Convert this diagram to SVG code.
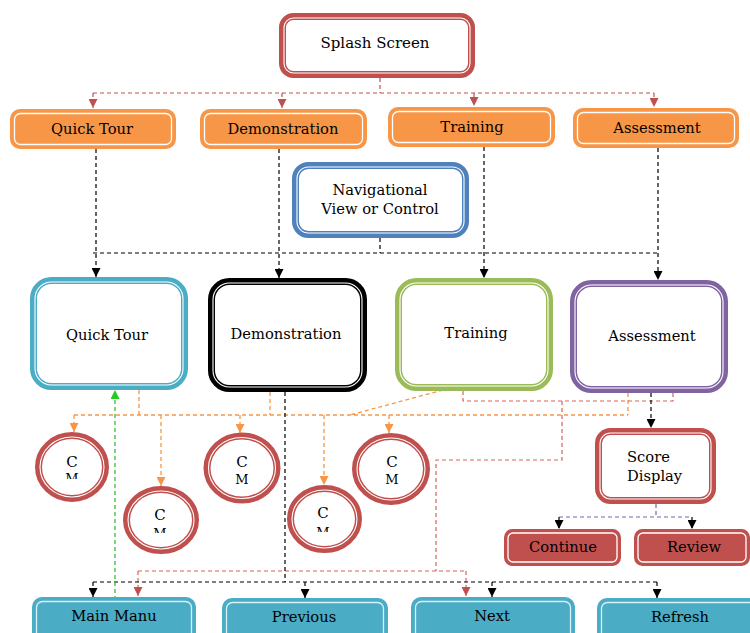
<svg xmlns="http://www.w3.org/2000/svg" width="750" height="633" viewBox="0 0 750 633">
<style>
text{font-family:"DejaVu Serif","Liberation Serif",serif;font-size:14.7px;fill:#000;text-anchor:middle}
.w{fill:none;stroke:#fff;stroke-width:1.1}
.big{fill:#fff;stroke-width:7}
.red{stroke:#c0504d}.blue{stroke:#4f81bd}.teal{stroke:#4bacc6}.blk{stroke:#000}.grn{stroke:#9bbb59}.pur{stroke:#8064a2}
.org{fill:#f79646;stroke:#f79646;stroke-width:4}
.btn{fill:#4bacc6;stroke:#4bacc6;stroke-width:4}
.rbtn{fill:#c0504d;stroke:#c0504d;stroke-width:3}
.wl{fill:none;stroke:#fff;stroke-width:1.3}
.bl{fill:none;stroke:#d6f0f6;stroke-width:1.3}
.cir{fill:#fff;stroke:#c0504d;stroke-width:7}
.d{fill:none;stroke-width:1.2;stroke-dasharray:4 3}
.dr{stroke:#c0504d}.dl{stroke:#d9625d}.dk{stroke:#000}.do{stroke:#f79646;stroke-width:1.3}.dg{stroke:#22bb22}.dp{stroke:#6f6aa8}
</style>
<defs>
<marker id="ar" viewBox="0 0 10 10" refX="10" refY="5" markerWidth="9" markerHeight="9" markerUnits="userSpaceOnUse" orient="auto"><path d="M0,0L10,5L0,10z" fill="#c0504d"/></marker>
<marker id="ak" viewBox="0 0 10 10" refX="10" refY="5" markerWidth="9" markerHeight="9" markerUnits="userSpaceOnUse" orient="auto"><path d="M0,0L10,5L0,10z" fill="#000"/></marker>
<marker id="ao" viewBox="0 0 10 10" refX="10" refY="5" markerWidth="9" markerHeight="9" markerUnits="userSpaceOnUse" orient="auto"><path d="M0,0L10,5L0,10z" fill="#f79646"/></marker>
<marker id="ag" viewBox="0 0 10 10" refX="10" refY="5" markerWidth="9" markerHeight="9" markerUnits="userSpaceOnUse" orient="auto"><path d="M0,0L10,5L0,10z" fill="#22cc22"/></marker>
<clipPath id="c1"><rect x="40" y="440" width="70" height="39"/></clipPath>
<clipPath id="c2"><rect x="130" y="490" width="70" height="43"/></clipPath>
<clipPath id="c4"><rect x="290" y="490" width="70" height="42"/></clipPath>
</defs>
<g id="connectors">
<path class="d dr" d="M380,78V93M93,93H654"/>
<path class="d dr" d="M93,93V108" marker-end="url(#ar)"/>
<path class="d dr" d="M282,93V108" marker-end="url(#ar)"/>
<path class="d dr" d="M474,93V106" marker-end="url(#ar)"/>
<path class="d dr" d="M654,93V107" marker-end="url(#ar)"/>
<path class="d dk" d="M93,253H658M380,238V253"/>
<path class="d dk" d="M96,149V277" marker-end="url(#ak)"/>
<path class="d dk" d="M279,149V278" marker-end="url(#ak)"/>
<path class="d dk" d="M484,147V278" marker-end="url(#ak)"/>
<path class="d dk" d="M658,148V280" marker-end="url(#ak)"/>
<path class="d do" d="M139,390V415M270,392V415M443,390L350,415M628,393V415M74,415H628"/>
<path class="d do" d="M74,415V432" marker-end="url(#ao)"/>
<path class="d do" d="M161,415V486" marker-end="url(#ao)"/>
<path class="d do" d="M240,415V433" marker-end="url(#ao)"/>
<path class="d do" d="M324,415V485" marker-end="url(#ao)"/>
<path class="d do" d="M389,415V433" marker-end="url(#ao)"/>
<path class="d dl" d="M463,391V401H673V393M562,401V460H436V571M138,571H466"/>
<path class="d dl" d="M138,571V596" marker-end="url(#ar)"/>
<path class="d dl" d="M466,571V596" marker-end="url(#ar)"/>
<path class="d dk" d="M285,392V582M93,582H657"/>
<path class="d dk" d="M93,582V597" marker-end="url(#ak)"/>
<path class="d dk" d="M305,582V598" marker-end="url(#ak)"/>
<path class="d dk" d="M492,582V597" marker-end="url(#ak)"/>
<path class="d dk" d="M657,582V598" marker-end="url(#ak)"/>
<path class="d dk" d="M651,393V428" marker-end="url(#ak)"/>
<path class="d dp" d="M656,504V517M559,517H692"/>
<path class="d dk" d="M559,517V529" marker-end="url(#ak)"/>
<path class="d dk" d="M692,517V529" marker-end="url(#ak)"/>
<path class="d dg" d="M115,600V390" marker-end="url(#ag)"/>
</g>
<g id="splash">
<rect class="big red" x="282.5" y="16.5" width="189" height="58" rx="11"/>
<rect class="w" x="284" y="18" width="186" height="55" rx="9.5"/>
<text x="375" y="48" style="font-size:15px">Splash Screen</text>
</g>
<g id="qt-top">
<rect class="org" x="12" y="111" width="162" height="36" rx="8"/>
<rect class="wl" x="14.5" y="113.5" width="157" height="31" rx="6"/>
<text x="92" y="134">Quick Tour</text>
</g>
<g id="demo-top">
<rect class="org" x="202" y="111" width="163" height="36" rx="8"/>
<rect class="wl" x="204.5" y="113.5" width="158" height="31" rx="6"/>
<text x="283" y="134">Demonstration</text>
</g>
<g id="train-top">
<rect class="org" x="390" y="109" width="163" height="36" rx="8"/>
<rect class="wl" x="392.5" y="111.5" width="158" height="31" rx="6"/>
<text x="472" y="132">Training</text>
</g>
<g id="assess-top">
<rect class="org" x="575" y="110" width="162" height="36" rx="8"/>
<rect class="wl" x="577.5" y="112.5" width="157" height="31" rx="6"/>
<text x="657" y="133">Assessment</text>
</g>
<g id="nav">
<rect class="big blue" x="295.5" y="165.5" width="170" height="69" rx="13"/>
<rect class="w" x="297" y="167" width="167" height="66" rx="11.5"/>
<text x="380" y="195">Navigational</text>
<text x="380" y="214">View or Control</text>
</g>
<g id="qt">
<rect class="big teal" x="33.5" y="280.5" width="151" height="106" rx="18"/>
<rect class="w" x="35" y="282" width="148" height="103" rx="16.5"/>
<text x="107" y="340">Quick Tour</text>
</g>
<g id="demo">
<rect class="big blk" x="211.5" y="281.5" width="152" height="107" rx="18"/>
<rect class="w" x="213" y="283" width="149" height="104" rx="16.5"/>
<text x="286" y="339">Demonstration</text>
</g>
<g id="train">
<rect class="big grn" x="398.5" y="281.5" width="151" height="106" rx="18"/>
<rect class="w" x="400" y="283" width="148" height="103" rx="16.5"/>
<text x="476" y="338">Training</text>
</g>
<g id="assess">
<rect class="big pur" x="573.5" y="283.5" width="151" height="106" rx="18"/>
<rect class="w" x="575" y="285" width="148" height="103" rx="16.5"/>
<text x="652" y="341">Assessment</text>
</g>
<g id="cm1">
<ellipse class="cir" cx="72" cy="467" rx="33.5" ry="31.5"/>
<ellipse class="w" cx="72" cy="467" rx="32" ry="30"/>
<text x="72" y="467" style="font-size:15px">C</text>
<text x="72" y="482.5" style="font-size:13px" clip-path="url(#c1)">M</text>
</g>
<g id="cm2">
<ellipse class="cir" cx="161" cy="520" rx="34.5" ry="30.5"/>
<ellipse class="w" cx="161" cy="520" rx="33" ry="29"/>
<text x="160" y="520" style="font-size:15px">C</text>
<text x="160" y="537.5" style="font-size:13px" clip-path="url(#c2)">M</text>
</g>
<g id="cm3">
<ellipse class="cir" cx="242" cy="468" rx="35" ry="32"/>
<ellipse class="w" cx="242" cy="468" rx="33.5" ry="30.5"/>
<text x="242" y="467" style="font-size:15px">C</text>
<text x="242" y="484" style="font-size:13px">M</text>
</g>
<g id="cm4">
<ellipse class="cir" cx="324.5" cy="519" rx="34" ry="30.5"/>
<ellipse class="w" cx="324.5" cy="519" rx="32.5" ry="29"/>
<text x="323" y="518" style="font-size:15px">C</text>
<text x="323" y="536.5" style="font-size:13px" clip-path="url(#c4)">M</text>
</g>
<g id="cm5">
<ellipse class="cir" cx="391" cy="469" rx="35.5" ry="32.5"/>
<ellipse class="w" cx="391" cy="469" rx="34" ry="31"/>
<text x="392" y="467" style="font-size:15px">C</text>
<text x="392" y="484" style="font-size:13px">M</text>
</g>
<g id="score">
<rect class="big red" x="598.5" y="431.5" width="114" height="69" rx="12"/>
<rect class="w" x="600" y="433" width="111" height="66" rx="10.5"/>
<text x="627" y="462" style="text-anchor:start">Score</text>
<text x="627" y="481" style="text-anchor:start">Display</text>
</g>
<g id="continue">
<rect class="rbtn" x="505.5" y="530.5" width="114" height="34" rx="7"/>
<rect class="wl" x="508" y="533" width="109" height="29" rx="5"/>
<text x="563" y="552">Continue</text>
</g>
<g id="review">
<rect class="rbtn" x="635.5" y="530.5" width="113" height="34" rx="7"/>
<rect class="wl" x="638" y="533" width="108" height="29" rx="5"/>
<text x="694" y="552">Review</text>
</g>
<g id="mainmenu">
<rect class="btn" x="34" y="599" width="160" height="45" rx="8"/>
<rect class="bl" x="36.5" y="601.5" width="155" height="40" rx="6"/>
<text x="114" y="621">Main Manu</text>
</g>
<g id="previous">
<rect class="btn" x="224" y="600" width="162" height="45" rx="8"/>
<rect class="bl" x="226.5" y="602.5" width="157" height="40" rx="6"/>
<text x="304" y="622">Previous</text>
</g>
<g id="next">
<rect class="btn" x="413" y="599" width="160" height="45" rx="8"/>
<rect class="bl" x="415.5" y="601.5" width="155" height="40" rx="6"/>
<text x="492" y="621">Next</text>
</g>
<g id="refresh">
<rect class="btn" x="599" y="600" width="162" height="45" rx="8"/>
<rect class="bl" x="601.5" y="602.5" width="157" height="40" rx="6"/>
<text x="680" y="622">Refresh</text>
</g>
</svg>
